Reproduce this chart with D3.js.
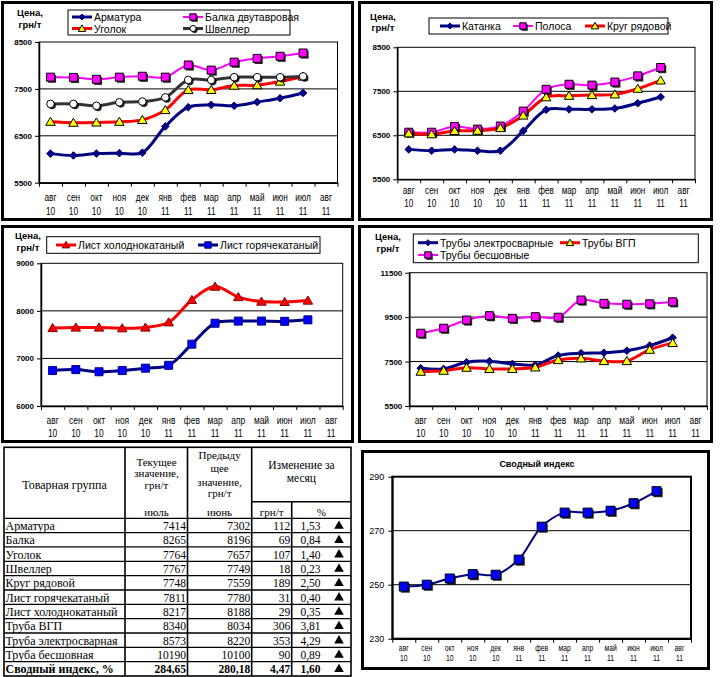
<!DOCTYPE html>
<html><head><meta charset="utf-8">
<script src="https://cdn.jsdelivr.net/npm/d3@7"></script>
<style>body{margin:0;background:#fff}svg{display:block}</style>
</head><body>
<svg id="c" width="720" height="677"></svg>
<script>
// ---------- DATA ----------
const months = ["авг","сен","окт","ноя","дек","янв","фев","мар","апр","май","июн","июл","авг"];
const years  = ["10","10","10","10","10","11","11","11","11","11","11","11","11"];

const p1Ticks = [5500, 6500, 7500, 8500];
const p1Armatura = [6120, 6080, 6120, 6130, 6140, 6700, 7110, 7160, 7140, 7220, 7302, 7414];
const p1Balka    = [7750, 7745, 7705, 7750, 7770, 7750, 8010, 7900, 8070, 8150, 8196, 8265];
const p1Ugolok   = [6800, 6780, 6785, 6800, 6840, 7050, 7480, 7480, 7570, 7580, 7657, 7764];
const p1Shveller = [7180, 7180, 7140, 7215, 7230, 7320, 7690, 7690, 7750, 7750, 7749, 7767];

const p2Ticks = [5500, 6500, 7500, 8500];
const p2Katanka = [6180, 6150, 6180, 6150, 6150, 6600, 7080, 7090, 7090, 7110, 7230, 7370];
const p2Polosa  = [6570, 6570, 6700, 6640, 6710, 7050, 7545, 7660, 7640, 7710, 7850, 8040];
const p2Krug    = [6545, 6525, 6600, 6605, 6665, 6950, 7365, 7400, 7415, 7430, 7559, 7748];

const p3Ticks = [6000, 7000, 8000, 9000];
const p3Cold = [7640, 7650, 7650, 7635, 7650, 7760, 8230, 8510, 8290, 8195, 8188, 8217];
const p3Hot  = [6745, 6765, 6720, 6745, 6795, 6855, 7300, 7740, 7785, 7785, 7780, 7811];

const p4Ticks = [5500, 7500, 9500, 11500];
const p4Electro  = [7200, 7170, 7470, 7515, 7395, 7350, 7770, 7875, 7900, 7990, 8220, 8573];
const p4Vgp      = [7045, 7090, 7225, 7170, 7170, 7240, 7570, 7645, 7525, 7525, 8034, 8340];
const p4Seamless = [8775, 9000, 9370, 9565, 9445, 9520, 9495, 10270, 10120, 10080, 10100, 10190];

const p6Ticks = [230, 250, 270, 290];
const indexValues = [249.3, 250.0, 252.3, 253.9, 253.7, 259.3, 271.5, 276.7, 276.7, 277.4, 280.18, 284.65];

const tblGroups  = ["Арматура","Балка","Уголок","Швеллер","Круг рядовой","Лист горячекатаный","Лист холоднокатаный","Труба ВГП","Труба электросварная","Труба бесшовная","Сводный индекс, %"];
const tblCurrent = ["7414","8265","7764","7767","7748","7811","8217","8340","8573","10190","284,65"];
const tblPrev    = ["7302","8196","7657","7749","7559","7780","8188","8034","8220","10100","280,18"];
const tblAbs     = ["112","69","107","18","189","31","29","306","353","90","4,47"];
const tblPct     = ["1,53","0,84","1,40","0,23","2,50","0,40","0,35","3,81","4,29","0,89","1,60"];

// ---------- DRAWING ----------
const svg = d3.select("#c");
const SANS = "'Liberation Sans', Arial, sans-serif";
const SERIF = "'Liberation Serif', 'Times New Roman', serif";

function markerPath(type, r) {
  if (type === "diamond") return `M0,${-r}L${r},0L0,${r}L${-r},0Z`;
  if (type === "square") return `M${-r},${-r}h${2*r}v${2*r}h${-2*r}Z`;
  if (type === "triangle") return `M0,${-r}L${r*1.05},${r*0.8}L${-r*1.05},${r*0.8}Z`;
  return d3.arc()({innerRadius:0, outerRadius:r, startAngle:0, endAngle:2*Math.PI});
}
function drawMarker(g, s, cx, cy) {
  const p = markerPath(s.marker, s.r);
  if (s.shadow) g.append("path").attr("d", p).attr("transform", `translate(${cx+1.6},${cy+1.6})`).attr("fill", "#000").attr("opacity", 0.85);
  g.append("path").attr("d", p).attr("transform", `translate(${cx},${cy})`)
    .attr("fill", s.fill).attr("stroke", s.mstroke).attr("stroke-width", s.msw || 1);
}

function drawFrame(f, sw) {
  svg.append("rect").attr("x", f.x + sw/2).attr("y", f.y + sw/2)
    .attr("width", f.w - sw).attr("height", f.h - sw)
    .attr("fill", "#fff").attr("stroke", "#000").attr("stroke-width", sw);
}

function drawChart(cfg) {
  drawFrame(cfg.frame, 3);
  const g = svg.append("g");
  const P = cfg.plot;
  const xb = d3.scaleBand().domain(d3.range(13)).range([P.l, P.r]);
  const xl = d3.scaleLinear().domain([0, 13]).range([P.l, P.r]);
  const xc = i => xb(i) + xb.bandwidth() / 2;
  const y = d3.scaleLinear().domain(cfg.domain).range([P.b, P.t]);

  g.selectAll(".grid").data(cfg.ticks.slice(1, -1)).join("line")
    .attr("x1", P.l).attr("x2", P.r).attr("y1", d => y(d)).attr("y2", d => y(d))
    .attr("stroke", "#000").attr("stroke-width", 1);
  g.append("rect").attr("x", P.l).attr("y", P.t).attr("width", P.r - P.l).attr("height", P.b - P.t)
    .attr("fill", "none").attr("stroke", "#000").attr("stroke-width", cfg.borderW || 1);

  const ya = g.append("g").attr("transform", `translate(${P.l},0)`)
    .call(d3.axisLeft(y).tickValues(cfg.ticks).tickFormat(d3.format("d")).tickSize(4).tickPadding(cfg.yPad || 3).tickSizeOuter(0));
  ya.select(".domain").attr("stroke-width", 1.5);
  ya.selectAll("text").attr("font-family", SANS).attr("font-size", cfg.yFont).attr("font-weight", cfg.yBold ? "bold" : "normal").attr("fill", "#000");
  const xa = g.append("g").attr("transform", `translate(0,${P.b})`)
    .call(d3.axisBottom(xl).tickValues(d3.range(0, 14)).tickSize(4).tickFormat("").tickSizeOuter(0));
  xa.select(".domain").attr("stroke-width", 1.5);
  months.forEach((m, i) => {
    g.append("text").attr("transform", `translate(${xc(i)},${cfg.xRows[0]}) scale(${cfg.xSx},1)`)
      .attr("text-anchor", "middle").attr("dominant-baseline", "central")
      .attr("font-family", SANS).attr("font-size", cfg.xFont).text(m);
    g.append("text").attr("transform", `translate(${xc(i)},${cfg.xRows[1]}) scale(${cfg.xSx},1)`)
      .attr("text-anchor", "middle").attr("dominant-baseline", "central")
      .attr("font-family", SANS).attr("font-size", cfg.xFont).text(years[i]);
  });

  cfg.series.forEach(s => {
    const line = d3.line().x((d, i) => xc(i)).y(d => y(d)).curve(d3.curveCatmullRom.alpha(0.5));
    g.append("path").attr("d", line(s.values)).attr("fill", "none")
      .attr("stroke", s.color).attr("stroke-width", s.w).attr("stroke-linejoin", "round");
  });
  cfg.series.forEach(s => {
    s.values.forEach((v, i) => drawMarker(g, s, xc(i), y(v)));
  });

  if (cfg.unit) {
    [["Цена,", cfg.unit.y1], ["грн/т", cfg.unit.y2]].forEach(([t, yy]) => {
      g.append("text").attr("x", cfg.unit.x).attr("y", yy).attr("text-anchor", "middle")
        .attr("dominant-baseline", "central").attr("font-family", SANS)
        .attr("font-size", 9.5).attr("font-weight", "bold").text(t);
    });
  }
  if (cfg.legend) {
    const L = cfg.legend;
    g.append("rect").attr("x", L.x).attr("y", L.y).attr("width", L.w).attr("height", L.h)
      .attr("fill", "#fff").attr("stroke", "#000").attr("stroke-width", 1);
    cfg.series.forEach((s, k) => {
      const it = L.items[k];
      g.append("line").attr("x1", it.x).attr("x2", it.x + 20).attr("y1", it.y).attr("y2", it.y)
        .attr("stroke", s.color).attr("stroke-width", s.w);
      drawMarker(g, Object.assign({}, s, {r: s.r * 0.8}), it.x + 10, it.y);
      g.append("text").attr("x", it.x + 22).attr("y", it.y).attr("dominant-baseline", "central")
        .attr("font-family", SANS).attr("font-size", 10.5).text(s.name);
    });
  }
  if (cfg.title) {
    g.append("text").attr("x", cfg.title.x).attr("y", cfg.title.y).attr("text-anchor", "middle")
      .attr("dominant-baseline", "central").attr("font-family", SANS).attr("font-size", 9)
      .attr("font-weight", "bold").text(cfg.title.text);
  }
}

const NAVY = "#000080", MAG = "#FF00FF", RED = "#FF0000", YEL = "#FFFF00", BLUE = "#0000FF";

drawChart({
  frame: {x: 1, y: 1, w: 353, h: 220},
  plot: {l: 39, t: 42, r: 337.5, b: 182.7},
  domain: [5500, 8500], ticks: p1Ticks, yFont: 8, yBold: true,
  xRows: [197, 210.5], xFont: 11.5, xSx: 0.72,
  unit: {x: 30, y1: 12, y2: 24},
  legend: {x: 68, y: 10, w: 222, h: 25,
    items: [{x: 72, y: 17}, {x: 183, y: 17}, {x: 72, y: 28.5}, {x: 183, y: 28.5}]},
  series: [
    {name: "Арматура", values: p1Armatura, color: NAVY, w: 3, marker: "diamond", r: 3.8, fill: NAVY, mstroke: NAVY},
    {name: "Балка двутавровая", values: p1Balka, color: MAG, w: 2, marker: "square", r: 4, fill: MAG, mstroke: "#000", shadow: true},
    {name: "Уголок", values: p1Ugolok, color: RED, w: 3, marker: "triangle", r: 4.5, fill: YEL, mstroke: "#000"},
    {name: "Швеллер", values: p1Shveller, color: "#333", w: 3, marker: "circle", r: 3.8, fill: "#fff", mstroke: "#000", shadow: true}
  ]
});

drawChart({
  frame: {x: 358, y: 1, w: 355, h: 220},
  plot: {l: 397.3, t: 47.3, r: 695, b: 179.3},
  domain: [5500, 8500], ticks: p2Ticks, yFont: 8, yBold: true,
  xRows: [190.5, 203], xFont: 10.5, xSx: 0.78,
  unit: {x: 383, y1: 16, y2: 27},
  legend: {x: 429, y: 18, w: 239, h: 16,
    items: [{x: 440, y: 26}, {x: 513, y: 26}, {x: 585, y: 26}]},
  series: [
    {name: "Катанка", values: p2Katanka, color: NAVY, w: 3, marker: "diamond", r: 3.8, fill: NAVY, mstroke: NAVY},
    {name: "Полоса", values: p2Polosa, color: MAG, w: 2, marker: "square", r: 4, fill: MAG, mstroke: "#000", shadow: true},
    {name: "Круг рядовой", values: p2Krug, color: RED, w: 3, marker: "triangle", r: 4.5, fill: YEL, mstroke: "#000"}
  ]
});

drawChart({
  frame: {x: 1, y: 225, w: 353, h: 218},
  plot: {l: 41, t: 263.3, r: 342.7, b: 406},
  domain: [6000, 9000], ticks: p3Ticks, yFont: 8, yBold: true,
  xRows: [420.5, 433], xFont: 10.5, xSx: 0.8,
  unit: {x: 28, y1: 235, y2: 247},
  legend: {x: 46.7, y: 236.7, w: 273.3, h: 16.6,
    items: [{x: 56, y: 245}, {x: 198, y: 245}]},
  series: [
    {name: "Лист холоднокатаный", values: p3Cold, color: RED, w: 3, marker: "triangle", r: 4.5, fill: RED, mstroke: "#800000"},
    {name: "Лист горячекатаный", values: p3Hot, color: NAVY, w: 3, marker: "square", r: 4, fill: BLUE, mstroke: NAVY}
  ]
});

drawChart({
  frame: {x: 358, y: 225, w: 355, h: 218},
  plot: {l: 409.3, t: 272.7, r: 707, b: 406},
  domain: [5500, 11500], ticks: p4Ticks, yFont: 8, yBold: true,
  xRows: [420.5, 433], xFont: 10.5, xSx: 0.8,
  unit: {x: 388, y1: 236, y2: 248.3},
  legend: {x: 413.3, y: 234, w: 285, h: 28.7,
    items: [{x: 418, y: 242.7}, {x: 560, y: 242.7}, {x: 418, y: 255}]},
  series: [
    {name: "Трубы электросварные", values: p4Electro, color: NAVY, w: 3, marker: "diamond", r: 3.8, fill: NAVY, mstroke: NAVY},
    {name: "Трубы ВГП", values: p4Vgp, color: RED, w: 3, marker: "triangle", r: 4.5, fill: YEL, mstroke: "#000"},
    {name: "Трубы бесшовные", values: p4Seamless, color: MAG, w: 2, marker: "square", r: 4, fill: MAG, mstroke: "#000", shadow: true}
  ]
});

drawChart({
  frame: {x: 361, y: 450, w: 349, h: 220},
  plot: {l: 392.3, t: 476.7, r: 691, b: 638.7},
  domain: [230, 290], ticks: p6Ticks, yFont: 9, yBold: false, yPad: 4,
  xRows: [648, 658.5], xFont: 8.5, xSx: 0.8, borderW: 2,
  title: {x: 537, y: 464, text: "Сводный индекс"},
  series: [
    {name: "Сводный индекс", values: indexValues, color: NAVY, w: 2, marker: "square", r: 4.5, fill: BLUE, mstroke: "#000", shadow: true}
  ]
});

// ---------- TABLE ----------
const T = svg.append("g");
const cx = [4, 125, 187.5, 251.7, 291.7, 351];
const tTop = 447.3, tSub = 501.7, tHead = 518.3, tBot = 676;
const rowScale = d3.scaleBand().domain(d3.range(tblGroups.length)).range([tHead, tBot]);
const lineAttr = (sel, w) => sel.attr("stroke", "#000").attr("stroke-width", w);

T.append("rect").attr("x", cx[0]).attr("y", tTop).attr("width", cx[5] - cx[0]).attr("height", tBot - tTop)
  .attr("fill", "#fff").attr("stroke", "#000").attr("stroke-width", 1.6);
[1, 2, 3].forEach(k => lineAttr(T.append("line").attr("x1", cx[k]).attr("x2", cx[k]).attr("y1", tTop).attr("y2", tBot), 1.6));
lineAttr(T.append("line").attr("x1", cx[4]).attr("x2", cx[4]).attr("y1", tSub).attr("y2", tBot), 1.6);
lineAttr(T.append("line").attr("x1", cx[3]).attr("x2", cx[5]).attr("y1", tSub).attr("y2", tSub), 1.6);
d3.range(tblGroups.length).forEach(i => {
  lineAttr(T.append("line").attr("x1", cx[0]).attr("x2", cx[5]).attr("y1", rowScale(i)).attr("y2", rowScale(i)), 1.3);
});

function ttext(x, y, t, anchor, opts = {}) {
  return T.append("text").attr("x", x).attr("y", y).attr("text-anchor", anchor)
    .attr("dominant-baseline", "central").attr("font-family", SERIF)
    .attr("font-size", opts.size || 11.5).attr("font-weight", opts.bold ? "bold" : "normal").text(t);
}
ttext(64.5, 485, "Товарная группа", "middle", {size: 12});
[["Текущее", 461.7], ["значение,", 473.3], ["грн/т", 485], ["июль", 511.7]].forEach(([t, yy]) => ttext(156.5, yy, t, "middle", {size: 11}));
[["Предыду", 455], ["щее", 468.3], ["значение,", 481.7], ["грн/т", 493.3], ["июнь", 511.7]].forEach(([t, yy]) => ttext(219.6, yy, t, "middle", {size: 11}));
[["Изменение за", 465], ["месяц", 478.3]].forEach(([t, yy]) => ttext(301.4, yy, t, "middle", {size: 11.5}));
ttext(271.7, 511.7, "грн/т", "middle", {size: 11});
ttext(321.4, 511.7, "%", "middle", {size: 11});

tblGroups.forEach((name, i) => {
  const yy = rowScale(i) + rowScale.bandwidth() / 2 + 0.5;
  const bold = i === tblGroups.length - 1;
  const o = {size: 11.5, bold};
  ttext(cx[0] + 1.5, yy, name, "start", {size: 12, bold});
  ttext(cx[2] - 1.5, yy, tblCurrent[i], "end", o);
  ttext(cx[3] - 1.5, yy, tblPrev[i], "end", o);
  ttext(cx[4] - 1.5, yy, tblAbs[i], "end", o);
  ttext(320.5, yy, tblPct[i], "end", o);
  T.append("path").attr("d", d3.symbol(d3.symbolTriangle, 40)()).attr("transform", `translate(339,${yy})`).attr("fill", "#000");
});
</script>
</body></html>
